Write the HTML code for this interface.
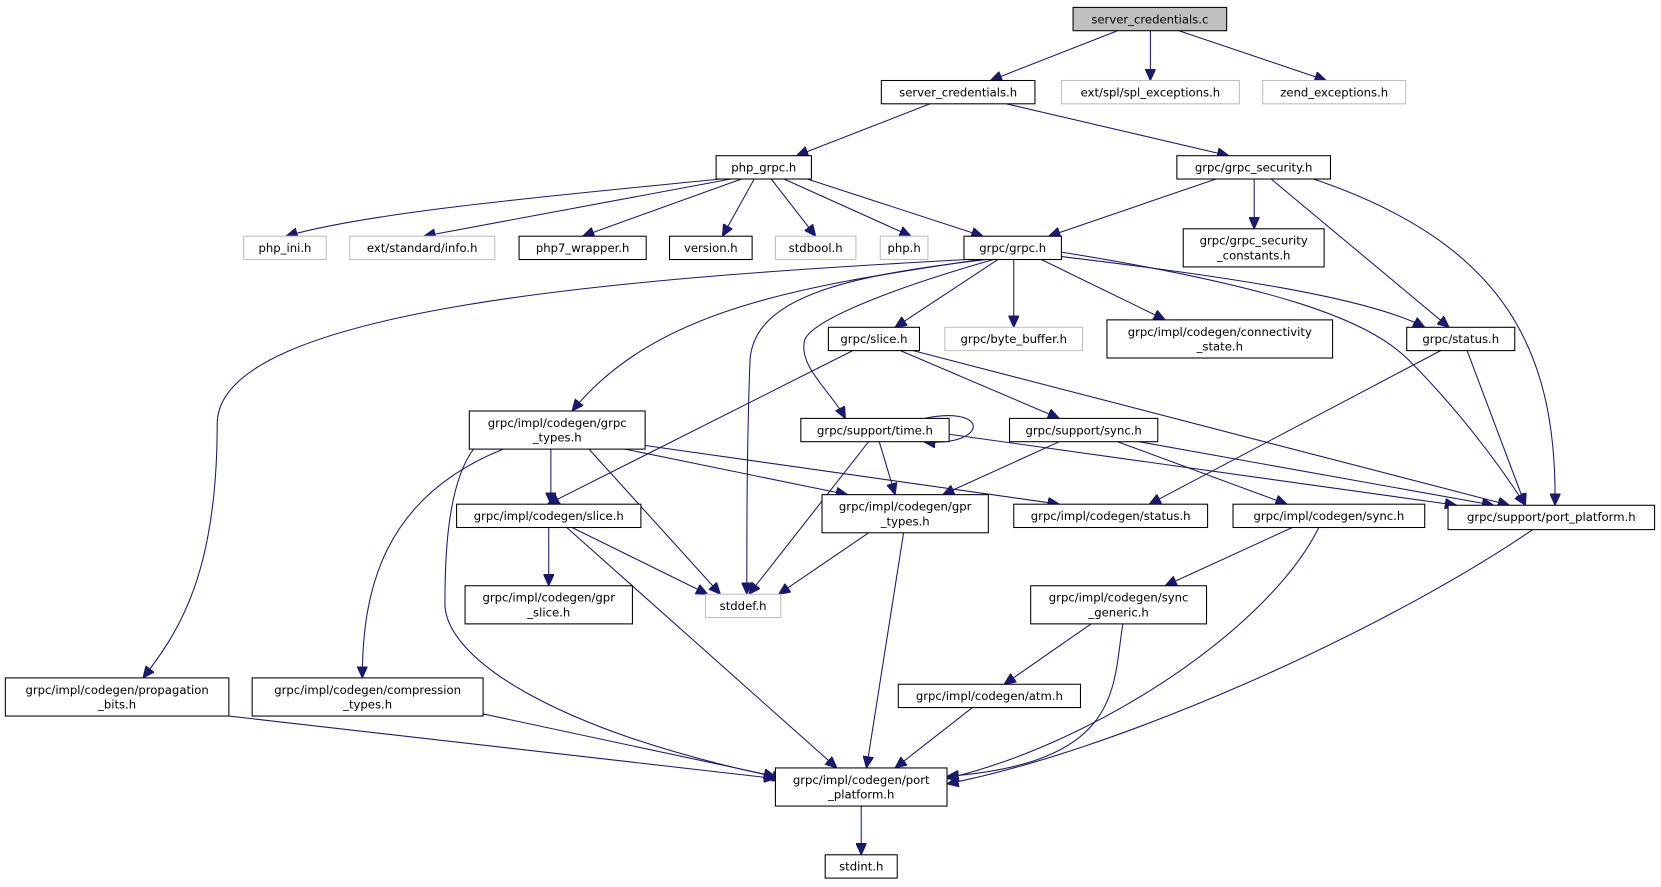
<!DOCTYPE html>
<html><head><meta charset="utf-8"><style>
html,body{margin:0;padding:0;background:#fff;}
svg{display:block;}
text{font-family:"DejaVu Sans","Liberation Sans",sans-serif;font-size:11px;fill:#000;text-anchor:middle;}
.n{fill:#fff;stroke:#000;stroke-width:1;}
.g{fill:#fff;stroke:#bfbfbf;stroke-width:1;}
.r{fill:#bfbfbf;stroke:#000;stroke-width:1;}
path.e{fill:none;stroke:#191970;stroke-width:1;marker-end:url(#a);}
</style></head><body>
<svg width="1661" height="887" viewBox="0 0 1568 837.4" xmlns="http://www.w3.org/2000/svg">
<defs><marker id="a" markerUnits="userSpaceOnUse" markerWidth="12" markerHeight="10" refX="11" refY="5" orient="auto"><path d="M0,0 L11,5 L0,10 z" fill="#191970" stroke="#191970"/></marker></defs>

<!-- edges -->
<path class="e" d="M1055,29 L935,76"/>
<path class="e" d="M1086,29 L1086,76"/>
<path class="e" d="M1113,29 L1252,76"/>
<path class="e" d="M878,98 L752,147"/>
<path class="e" d="M950,98 L1160,147"/>
<path class="e" d="M680,169 C520,185 350,200 270,223"/>
<path class="e" d="M690,169 L400,223"/>
<path class="e" d="M700,169 L550,223"/>
<path class="e" d="M712,169 L682,223"/>
<path class="e" d="M728,169 L770,223"/>
<path class="e" d="M740,169 L860,223"/>
<path class="e" d="M762,169 L928,223"/>
<path class="e" d="M1148,169 L990,223"/>
<path class="e" d="M1184,169 L1184,216"/>
<path class="e" d="M1200,169 L1368,309"/>
<path class="e" d="M1240,169 C1420,230 1470,330 1468,477"/>
<path class="e" d="M913,245 C600,262 205,290 205,400 C205,540 170,595 135,640"/>
<path class="e" d="M925,245 C760,270 620,290 540,388"/>
<path class="e" d="M932,245 C800,260 712,280 708,340 C705,420 705,500 705,561"/>
<path class="e" d="M938,245 C850,270 770,300 760,320 C752,345 785,370 798,395"/>
<path class="e" d="M942,245 L845,309"/>
<path class="e" d="M957,245 L957,309"/>
<path class="e" d="M983,245 L1100,302"/>
<path class="e" d="M1000,242 C1150,260 1290,280 1345,309"/>
<path class="e" d="M1002,238 C1200,270 1290,300 1330,340 C1370,380 1410,430 1440,477"/>
<path class="e" d="M805,331 L517,476"/>
<path class="e" d="M850,331 L1000,395"/>
<path class="e" d="M862,331 L1425,477"/>
<path class="e" d="M1360,331 L1085,476"/>
<path class="e" d="M1385,331 L1440,477"/>
<path class="e" d="M520,424 L520,476"/>
<path class="e" d="M556,424 L680,561"/>
<path class="e" d="M590,424 L800,467"/>
<path class="e" d="M605,420 L1000,476"/>
<path class="e" d="M475,424 C360,470 342,560 342,640"/>
<path class="e" d="M447,424 C420,460 420,540 420,570 C420,620 520,690 740,735"/>
<path class="e" d="M820,417 L707,561"/>
<path class="e" d="M830,417 L845,467"/>
<path class="e" d="M868,396 C935,380 935,422 872,417"/>
<path class="e" d="M896,410 L1375,477"/>
<path class="e" d="M1000,417 L890,467"/>
<path class="e" d="M1055,417 L1215,476"/>
<path class="e" d="M1075,417 L1410,477"/>
<path class="e" d="M518,498 L518,553"/>
<path class="e" d="M540,498 L668,561"/>
<path class="e" d="M535,498 L790,725"/>
<path class="e" d="M820,503 L735,561"/>
<path class="e" d="M853,503 L818,725"/>
<path class="e" d="M1220,498 L1100,553"/>
<path class="e" d="M1245,498 C1200,590 1040,700 894,735"/>
<path class="e" d="M1447,500 C1300,600 1050,710 894,740"/>
<path class="e" d="M1030,589 L948,646"/>
<path class="e" d="M1060,589 C1050,650 1060,720 894,733"/>
<path class="e" d="M918,668 L845,725"/>
<path class="e" d="M216,676 L732,735"/>
<path class="e" d="M456,674 L732,733"/>
<path class="e" d="M813,761 L813,807"/>

<!-- nodes -->
<rect class="r" x="1013" y="7" width="145" height="22"/><text x="1085.5" y="22">server_credentials.c</text>
<rect class="n" x="832" y="76" width="145" height="22"/><text x="904.5" y="91">server_credentials.h</text>
<rect class="g" x="1002" y="76" width="168" height="22"/><text x="1086" y="91">ext/spl/spl_exceptions.h</text>
<rect class="g" x="1192" y="76" width="135" height="22"/><text x="1259.5" y="91">zend_exceptions.h</text>
<rect class="n" x="676" y="147" width="90" height="22"/><text x="721" y="162">php_grpc.h</text>
<rect class="n" x="1111" y="147" width="145" height="22"/><text x="1183.5" y="162">grpc/grpc_security.h</text>
<rect class="g" x="230" y="223" width="78" height="22"/><text x="269" y="238">php_ini.h</text>
<rect class="g" x="330" y="223" width="137" height="22"/><text x="398.5" y="238">ext/standard/info.h</text>
<rect class="n" x="490" y="223" width="120" height="22"/><text x="550" y="238">php7_wrapper.h</text>
<rect class="n" x="632" y="223" width="78" height="22"/><text x="671" y="238">version.h</text>
<rect class="g" x="732" y="223" width="76" height="22"/><text x="770" y="238">stdbool.h</text>
<rect class="g" x="831" y="223" width="45" height="22"/><text x="853.5" y="238">php.h</text>
<rect class="n" x="910" y="223" width="92" height="22"/><text x="956" y="238">grpc/grpc.h</text>
<rect class="n" x="1117" y="216" width="133" height="36"/><text x="1183.5" y="231">grpc/grpc_security</text><text x="1183.5" y="245">_constants.h</text>
<rect class="n" x="782" y="309" width="86" height="22"/><text x="825" y="324">grpc/slice.h</text>
<rect class="g" x="892" y="309" width="130" height="22"/><text x="957" y="324">grpc/byte_buffer.h</text>
<rect class="n" x="1045" y="302" width="213" height="36"/><text x="1151.5" y="317">grpc/impl/codegen/connectivity</text><text x="1151.5" y="331">_state.h</text>
<rect class="n" x="1328" y="309" width="102" height="22"/><text x="1379" y="324">grpc/status.h</text>
<rect class="n" x="443" y="388" width="166" height="36"/><text x="526" y="403">grpc/impl/codegen/grpc</text><text x="526" y="417">_types.h</text>
<rect class="n" x="756" y="395" width="140" height="22"/><text x="826" y="410">grpc/support/time.h</text>
<rect class="n" x="953" y="395" width="140" height="22"/><text x="1023" y="410">grpc/support/sync.h</text>
<rect class="n" x="431" y="476" width="174" height="22"/><text x="518" y="491">grpc/impl/codegen/slice.h</text>
<rect class="n" x="776" y="467" width="157" height="36"/><text x="854.5" y="482">grpc/impl/codegen/gpr</text><text x="854.5" y="496">_types.h</text>
<rect class="n" x="957" y="476" width="183" height="22"/><text x="1048.5" y="491">grpc/impl/codegen/status.h</text>
<rect class="n" x="1164" y="476" width="181" height="22"/><text x="1254.5" y="491">grpc/impl/codegen/sync.h</text>
<rect class="n" x="1367" y="477" width="195" height="23"/><text x="1464.5" y="492">grpc/support/port_platform.h</text>
<rect class="n" x="439" y="553" width="158" height="36"/><text x="518" y="568">grpc/impl/codegen/gpr</text><text x="518" y="582">_slice.h</text>
<rect class="g" x="666" y="561" width="71" height="22"/><text x="701.5" y="576">stddef.h</text>
<rect class="n" x="973" y="553" width="166" height="36"/><text x="1056" y="568">grpc/impl/codegen/sync</text><text x="1056" y="582">_generic.h</text>
<rect class="n" x="848" y="646" width="172" height="22"/><text x="934" y="661">grpc/impl/codegen/atm.h</text>
<rect class="n" x="5" y="640" width="211" height="36"/><text x="110.5" y="655">grpc/impl/codegen/propagation</text><text x="110.5" y="669">_bits.h</text>
<rect class="n" x="238" y="640" width="218" height="36"/><text x="347" y="655">grpc/impl/codegen/compression</text><text x="347" y="669">_types.h</text>
<rect class="n" x="732" y="725" width="162" height="36"/><text x="813" y="740">grpc/impl/codegen/port</text><text x="813" y="754">_platform.h</text>
<rect class="n" x="779" y="807" width="68" height="22"/><text x="813" y="822">stdint.h</text>
</svg>
</body></html>
